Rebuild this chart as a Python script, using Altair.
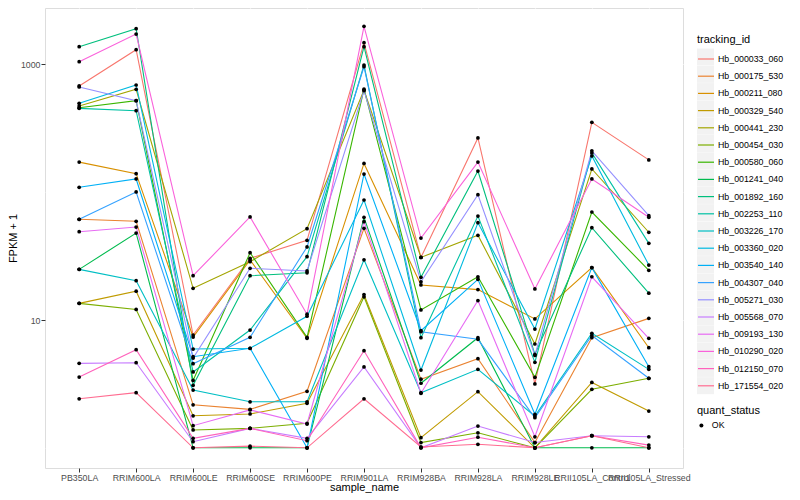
import altair as alt
import pandas as pd

samples = ["PB350LA", "RRIM600LA", "RRIM600LE", "RRIM600SE", "RRIM600PE", "RRIM901LA",
           "RRIM928BA", "RRIM928LA", "RRIM928LE", "RRII105LA_Control", "RRII105LA_Stressed"]

ids = ["Hb_000033_060", "Hb_000175_530", "Hb_000211_080", "Hb_000329_540", "Hb_000441_230",
       "Hb_000454_030", "Hb_000580_060", "Hb_001241_040", "Hb_001892_160", "Hb_002253_110",
       "Hb_003226_170", "Hb_003360_020", "Hb_003540_140", "Hb_004307_040", "Hb_005271_030",
       "Hb_005568_070", "Hb_009193_130", "Hb_010290_020", "Hb_012150_070", "Hb_171554_020"]

colors = ["#F8766D", "#EA8331", "#D89000", "#C09B00", "#A3A500", "#7CAE00", "#39B600", "#00BB4E",
          "#00BF7D", "#00C1A3", "#00BFC4", "#00BAE0", "#00B0F6", "#35A2FF", "#9590FF", "#C77CFF",
          "#E76BF3", "#FA62DB", "#FF62BC", "#FF6C91"]

# FPKM + 1, one list per tracking_id, in the order of `samples`
hb_000033_060 = [678, 1303, 7.63, 30.4, 42.0, 1478, 30.9, 266, 3.16, 352, 179]
hb_000175_530 = [61.4, 59.2, 2.17, 2.00, 2.77, 52.2, 3.44, 4.98, 1.10, 7.27, 10.3]
hb_000211_080 = [172, 139.6, 7.36, 29.5, 7.19, 168, 18.8, 17.3, 10.2, 25.7, 6.07]
hb_000329_540 = [13.5, 16.8, 1.78, 1.84, 2.23, 15.8, 1.20, 2.75, 1.0, 3.25, 1.94]
hb_000441_230 = [473, 639, 17.7, 28.6, 51.8, 630, 30.9, 46.0, 6.49, 152, 48.6]
hb_000454_030 = [13.5, 12.1, 1.38, 1.42, 1.555, 15.2, 1.10, 1.31, 1.0, 2.87, 3.50]
hb_000580_060 = [458, 520, 3.37, 33.6, 7.32, 640, 12.0, 21.8, 3.56, 70.0, 24.5]
hb_001241_040 = [24.9, 47.9, 1.0, 1.0, 1.0, 63.6, 3.20, 7.27, 1.0, 1.0, 1.0]
hb_001892_160 = [1376, 1902, 3.08, 22.2, 23.4, 1376, 21.6, 146.5, 5.39, 52.8, 16.2]
hb_002253_110 = [453, 434, 3.92, 8.35, 31.3, 989, 7.27, 65.1, 4.67, 203, 39.8]
hb_003226_170 = [24.9, 20.3, 2.83, 2.29, 2.29, 29.6, 2.70, 4.11, 1.77, 7.87, 4.11]
hb_003360_020 = [496, 690, 5.93, 6.01, 10.7, 86.9, 4.06, 57.7, 8.5, 192, 26.9]
hb_003540_140 = [109.2, 126.9, 5.16, 6.01, 1.0, 138.8, 8.25, 20.8, 1.83, 25.7, 4.31]
hb_004307_040 = [61.4, 100.4, 4.55, 7.32, 37.3, 959, 8.1, 7.06, 1.72, 7.56, 3.50]
hb_005271_030 = [666, 520, 5.04, 25.4, 24.2, 623, 19.9, 95.6, 5.28, 211, 65.5]
hb_005568_070 = [4.58, 4.63, 1.116, 1.42, 1.187, 4.29, 1.0, 1.48, 1.10, 1.244, 1.22]
hb_009193_130 = [49.1, 53.4, 1.49, 1.98, 1.535, 58.8, 2.67, 14.2, 1.22, 21.8, 7.19]
hb_010290_020 = [1050, 1729, 22.2, 64.0, 11.1, 1987, 43.8, 172, 17.5, 126.9, 63.6]
hb_012150_070 = [3.58, 5.86, 1.187, 1.42, 1.137, 5.75, 1.0, 1.21, 1.0, 1.244, 1.05]
hb_171554_020 = [2.42, 2.70, 1.0, 1.03, 1.0, 2.42, 1.015, 1.065, 1.0, 1.244, 1.0]

series = [hb_000033_060, hb_000175_530, hb_000211_080, hb_000329_540, hb_000441_230,
          hb_000454_030, hb_000580_060, hb_001241_040, hb_001892_160, hb_002253_110,
          hb_003226_170, hb_003360_020, hb_003540_140, hb_004307_040, hb_005271_030,
          hb_005568_070, hb_009193_130, hb_010290_020, hb_012150_070, hb_171554_020]

y_breaks = [1, 10, 100, 1000]

rows = []
for tid, vals in zip(ids, series):
    for s, v in zip(samples, vals):
        rows.append({"sample_name": s, "tracking_id": tid, "fpkm1": v, "quant_status": "OK"})
df = pd.DataFrame(rows)

major = "datum.value == 10 || datum.value == 1000"
FONT = "Liberation Sans"
KEY_BG = "#F2F2F2"
bg_ids = [i + "_bg" for i in ids]

x = alt.X("sample_name:N", sort=samples,
          scale=alt.Scale(type="point", padding=0.6),
          axis=alt.Axis(title="sample_name", labelAngle=0, grid=True, gridColor="white",
                        gridWidth=1.2, domain=False, tickColor="#333333", tickSize=4,
                        tickWidth=1, labelColor="#4D4D4D", labelFontSize=8.8,
                        labelOverlap=False, labelPadding=1, titleFontSize=11,
                        titleFontWeight="normal", titleColor="black", titlePadding=0,
                        labelFont=FONT, titleFont=FONT))

y = alt.Y("fpkm1:Q",
          scale=alt.Scale(type="log", domain=[0.695, 2763], nice=False),
          axis=alt.Axis(title="FPKM + 1", values=y_breaks, format="d",
                        labelExpr=f"({major}) ? datum.label : ''",
                        grid=True, gridColor="white",
                        gridWidth={"condition": {"test": major, "value": 1.2}, "value": 0.6},
                        tickOpacity={"condition": {"test": major, "value": 1}, "value": 0},
                        domain=False, tickColor="#333333", tickSize=4, tickWidth=1,
                        labelColor="#4D4D4D", labelFontSize=8.8, labelOverlap=False,
                        labelPadding=1, titleFontSize=11, titleFontWeight="normal",
                        titleColor="black", titlePadding=2, labelFont=FONT, titleFont=FONT))

legend_common = dict(orient="none", legendX=652, labelFontSize=8.8, titleFontSize=11,
                     titleFontWeight="normal", titlePadding=5, labelFont=FONT, titleFont=FONT)

# invisible layer whose legends give the grey key backgrounds (no titles, no labels)
keys_bg = alt.Chart(df).transform_calculate(
    key_tid="datum.tracking_id + '_bg'", key_qs="datum.quant_status + '_bg'"
).mark_square(opacity=0).encode(
    x=x, y=y,
    fill=alt.Fill("key_tid:N", scale=alt.Scale(domain=bg_ids, range=[KEY_BG]),
                  legend=alt.Legend(orient="none", legendX=652, legendY=40.5, title="",
                                    symbolType="square", symbolSize=289, symbolOpacity=1,
                                    symbolStrokeWidth=0, symbolFillColor=KEY_BG,
                                    rowPadding=0.3, labelExpr="''", labelFontSize=8.8,
                                    zindex=0)),
    size=alt.Size("key_qs:N", scale=alt.Scale(range=[289]),
                  legend=alt.Legend(orient="none", legendX=652, legendY=408.5, title="",
                                    symbolType="square", symbolOpacity=1,
                                    symbolStrokeWidth=0, symbolFillColor=KEY_BG,
                                    labelExpr="''", labelFontSize=8.8, zindex=0)),
)

lines = alt.Chart(df).mark_line(strokeWidth=1.1).encode(
    x=x, y=y,
    color=alt.Color("tracking_id:N",
                    scale=alt.Scale(domain=ids, range=colors),
                    legend=alt.Legend(legendY=26, title="tracking_id", symbolType="stroke",
                                      symbolSize=256, symbolStrokeWidth=1.2,
                                      rowPadding=3.2, labelColor="black",
                                      titleColor="black", labelOffset=3, zindex=2,
                                      **legend_common)),
)

points = alt.Chart(df).mark_point(filled=True, color="black", size=14, opacity=1).encode(
    x=x, y=y,
    shape=alt.Shape("quant_status:N", scale=alt.Scale(range=["circle"]),
                    legend=alt.Legend(legendY=397, title="quant_status",
                                      symbolFillColor="black", symbolStrokeColor="black",
                                      symbolSize=16, labelColor="black", titleColor="black",
                                      labelOffset=6, zindex=2, **legend_common)),
)

chart = alt.layer(keys_bg, lines, points).properties(
    width=638, height=460,
    padding={"left": 37, "top": 0, "right": 109, "bottom": 26},
    autosize=alt.AutoSizeParams(type="none"),
).configure_view(fill="#EBEBEB", stroke="transparent").configure(font=FONT)

chart.save("out.html", embed_options={"renderer": "svg", "actions": False})
